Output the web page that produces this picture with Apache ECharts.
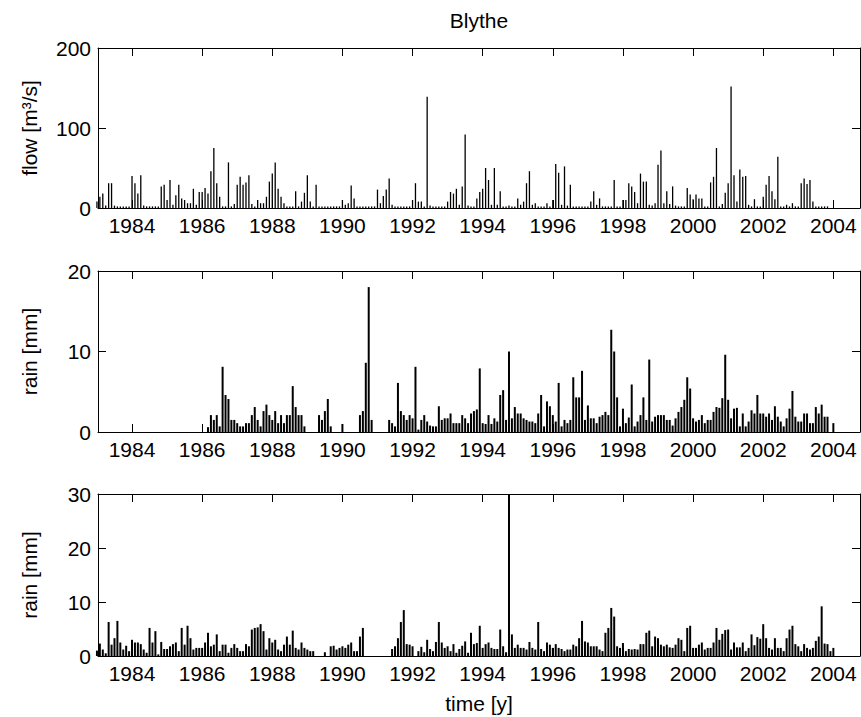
<!DOCTYPE html>
<html>
<head>
<meta charset="utf-8">
<script src="https://cdn.jsdelivr.net/npm/echarts@6/dist/echarts.min.js"></script>
<style>html,body{margin:0;padding:0;background:#fff}#chart{width:861px;height:717px}</style>
</head>
<body>
<div id="chart"></div>
<script>
// ---- data (monthly bins starting Jan 1983) ----
const startYear = 1983;
const stepYears = 1 / 12;
const xTickValues = [1984, 1986, 1988, 1990, 1992, 1994, 1996, 1998, 2000, 2002, 2004];

const flowValues = [
  8,14,18,3,31,31,3,2,2,2,2,2,          // 1983
  40,31,18,41,3,2,2,2,2,2,27,29,        // 1984
  10,35,4,16,29,12,10,6,6,24,4,20,      // 1985
  20,25,18,46,75,31,14,2,2,57,2,5,      // 1986
  29,39,29,32,41,5,2,10,6,6,14,33,      // 1987
  43,57,24,14,6,2,2,2,21,2,8,19,        // 1988
  41,8,2,29,2,2,2,2,2,2,2,2,            // 1989
  10,4,6,28,12,2,2,2,2,2,2,2,           // 1990
  23,6,15,23,37,4,2,2,2,2,2,2,          // 1991
  10,31,8,8,2,139,3,2,2,2,2,2,          // 1992
  8,20,18,24,4,27,92,3,2,2,12,20,       // 1993
  24,50,35,4,50,4,21,2,2,3,2,2,         // 1994
  12,4,8,31,46,4,6,2,2,2,6,2,           // 1995
  10,55,44,4,52,3,29,2,2,2,2,2,         // 1996
  2,8,21,4,12,2,2,2,2,35,2,2,           // 1997
  10,10,31,27,20,6,43,33,33,4,3,6,      // 1998
  54,72,6,21,5,27,3,2,2,2,25,17,        // 1999
  11,17,12,12,2,2,32,39,75,2,5,19,      // 2000
  31,152,41,8,48,39,40,4,2,11,2,2,      // 2001
  14,29,40,21,11,64,2,2,4,2,6,2,        // 2002
  2,31,37,30,35,8,2,2,2,2,2,0,          // 2003
  0                                     // 2004
];

const rainAValues = [
  0,0,0,0,0,0,0,0,0,0,0,0,                          // 1983
  0,0,0,0,0,0,0,0,0,0,0,0,                          // 1984
  0,0,0,0,0,0,0,0,0,0,0,0,                          // 1985
  0,0,0.6,2.1,1.5,2.1,0.7,8.1,4.6,4.1,1.5,1.5,      // 1986
  1.1,0.7,0.7,1.1,1.1,2.1,3.1,1.5,0.7,2.6,3.4,2.1,  // 1987
  1.5,2.6,1.1,2.1,1.1,2.1,2.1,5.7,3.1,2.1,2.1,0.7,  // 1988
  0,0,0,0,2.1,1.5,2.6,4.1,0.7,0,0,0,                // 1989
  1.0,0,0,0,0,0,2.1,2.6,8.6,18.0,1.5,0,             // 1990
  0,0,0,0,1.5,1.1,0.7,6.1,2.6,2.1,1.5,2.1,          // 1991
  1.7,8.1,0.3,1.5,2.1,1.3,0.8,0.7,0.7,3.2,1.5,1.7,  // 1992
  1.7,2.3,1.1,1.1,1.1,2.1,1.7,1.1,2.3,2.6,2.8,7.9,  // 1993
  1.1,1.0,2.1,1.0,1.7,1.3,4.6,5.2,1.5,10.0,1.7,3.1, // 1994
  2.3,2.3,1.7,1.5,1.3,1.3,1.1,2.3,4.6,0.7,3.8,3.2,  // 1995
  2.1,1.3,6.1,0.7,1.5,1.1,1.5,6.8,4.3,4.3,7.6,1.5,  // 1996
  3.3,1.7,1.7,1.1,1.9,2.1,2.5,2.1,12.7,10.0,4.3,0.7,// 1997
  2.9,1.1,1.8,5.9,0.7,1.3,2.1,4.3,1.5,9.0,1.3,1.9,  // 1998
  2.1,2.1,2.1,1.5,1.5,0.8,1.7,2.5,3.1,4.0,6.8,5.4,  // 1999
  1.7,1.3,1.5,2.1,1.1,1.5,1.5,2.5,3.1,3.0,4.2,9.6,  // 2000
  4.0,1.7,2.9,3.0,0.7,2.3,0.7,1.3,2.7,2.3,4.6,2.3,  // 2001
  2.3,1.9,2.3,1.5,3.2,1.9,1.3,0.7,1.7,2.9,5.1,1.9,  // 2002
  1.3,1.3,2.3,2.3,1.1,1.1,3.1,2.3,3.4,1.9,1.9,0,    // 2003
  1.1                                               // 2004
];

const rainBValues = [
  1.0,2.3,1.2,0.5,6.3,2.1,3.3,6.5,2.5,1.2,1.9,0.9,  // 1983
  3.0,2.5,2.5,2.2,1.2,0.6,5.2,2.5,4.6,0.3,2.6,1.3,  // 1984
  1.3,1.8,2.2,2.5,0.9,5.2,2.1,5.6,3.3,1.2,1.5,1.5,  // 1985
  1.5,2.5,4.3,1.8,2.1,4.0,0.9,2.1,2.1,0.6,1.5,2.2,  // 1986
  1.5,0.9,0.9,2.2,1.8,4.9,5.2,5.3,5.9,4.6,1.2,3.3,  // 1987
  2.5,3.0,1.2,0.9,2.1,3.6,2.1,4.7,1.5,1.2,2.5,1.5,  // 1988
  1.2,0.9,0.9,0,0,0,0.7,0,1.8,1.9,1.2,1.5,          // 1989
  1.8,1.5,2.1,2.5,0.9,0.9,3.6,5.2,0,0,0,0,          // 1990
  0,0,0,0,0,1.3,1.8,3.3,6.3,8.5,2.2,2.1,            // 1991
  1.8,0,0.9,1.7,0.7,3.0,1.3,0.9,2.6,6.3,2.5,1.5,    // 1992
  1.8,0.9,2.2,0.6,1.3,1.9,2.7,0.6,4.3,2.2,2.4,5.6,  // 1993
  1.5,2.2,2.5,1.5,1.3,1.3,4.9,1.8,0.7,30.0,4.0,1.5, // 1994
  2.1,1.5,1.5,1.2,2.6,1.5,1.2,6.3,1.3,0.9,2.5,2.1,  // 1995
  1.5,2.2,1.5,1.3,0.9,1.2,1.2,2.1,1.8,3.3,6.5,2.7,  // 1996
  2.5,1.8,1.8,1.8,1.2,0.9,4.3,5.2,8.9,7.3,1.8,1.5,  // 1997
  2.4,0.9,1.3,1.2,1.3,1.2,2.2,2.2,4.3,4.7,1.8,3.6,  // 1998
  3.3,2.1,1.8,2.1,1.6,1.5,2.1,3.3,3.0,0.9,5.2,5.6,  // 1999
  1.5,1.5,2.1,2.5,1.2,1.5,1.5,2.5,5.2,3.0,4.1,4.8,  // 2000
  4.9,1.2,2.5,1.6,1.6,2.5,0.9,1.5,4.0,2.0,3.5,3.2,  // 2001
  5.9,3.3,1.5,1.2,3.3,1.5,1.5,0.9,3.3,4.9,5.6,2.2,  // 2002
  1.8,0.9,2.2,1.5,1.2,1.5,2.8,3.6,9.2,2.3,2.2,0.9,  // 2003
  1.5                                               // 2004
];

const panelYMax = [200, 20, 30];
const panelYInterval = [100, 10, 10];
const panelYNames = ['flow [m\u00b3/s]', 'rain [mm]', 'rain [mm]'];
const titleText = 'Blythe';
const xName = 'time [y]';

// ---- build chart ----
const FONT = '"Liberation Sans", Arial, Helvetica, sans-serif';
const FS = 21;
const X_MIN = 1983.03, X_MAX = 2004.76;

function toPairs(vals) {
  return vals.map((v, i) => [startYear + i * stepYears, v]);
}

const gridDefs = [
  { left: 98, right: 1, top: 48, height: 160 },
  { left: 98, right: 1, top: 271, height: 161 },
  { left: 98, right: 1, top: 494, height: 162 }
];

const lineStyle = { color: '#000', width: 1 };
const xAxes = [], yAxes = [], series = [];
const datasets = [flowValues, rainAValues, rainBValues];

gridDefs.forEach((g, gi) => {
  const xCommon = {
    type: 'value', gridIndex: gi, min: X_MIN, max: X_MAX,
    splitLine: { show: false },
    axisLine: { show: true, onZero: false, lineStyle },
    axisTick: { show: true, inside: true, length: 8, customValues: xTickValues, lineStyle }
  };
  xAxes.push(Object.assign({}, xCommon, {
    position: 'bottom',
    axisLabel: { show: true, customValues: xTickValues, margin: 7, color: '#000',
      fontSize: FS, fontFamily: FONT, formatter: v => String(Math.round(v)) },
    name: gi === 2 ? xName : '',
    nameLocation: 'middle', nameGap: 37,
    nameTextStyle: { color: '#000', fontSize: FS, fontFamily: FONT }
  }));
  xAxes.push(Object.assign({}, xCommon, { position: 'top', axisLabel: { show: false } }));

  const yCommon = {
    type: 'value', gridIndex: gi, min: 0, max: panelYMax[gi], interval: panelYInterval[gi],
    splitLine: { show: false },
    axisLine: { show: true, onZero: false, lineStyle },
    axisTick: { show: true, inside: true, length: 8, lineStyle }
  };
  yAxes.push(Object.assign({}, yCommon, {
    position: 'left',
    axisLabel: { show: true, margin: 7, color: '#000', fontSize: FS, fontFamily: FONT },
    name: panelYNames[gi], nameLocation: 'middle', nameRotate: 90, nameGap: 58,
    nameTextStyle: { color: '#000', fontSize: FS, fontFamily: FONT }
  }));
  yAxes.push(Object.assign({}, yCommon, { position: 'right', axisLabel: { show: false } }));

  series.push({
    type: 'bar', xAxisIndex: gi * 2, yAxisIndex: gi * 2,
    data: toPairs(datasets[gi]),
    barWidth: gi === 0 ? 1.3 : 2,
    itemStyle: { color: '#000' },
    silent: true, animation: false
  });
});

const chart = echarts.init(document.getElementById('chart'), null, { renderer: 'svg' });
chart.setOption({
  backgroundColor: '#fff',
  animation: false,
  title: {
    text: titleText, left: 479, top: 10, textAlign: 'center', padding: 0,
    textStyle: { color: '#000', fontSize: FS, fontWeight: 'normal', fontFamily: FONT }
  },
  grid: gridDefs,
  xAxis: xAxes,
  yAxis: yAxes,
  series: series
});
</script>
</body>
</html>
